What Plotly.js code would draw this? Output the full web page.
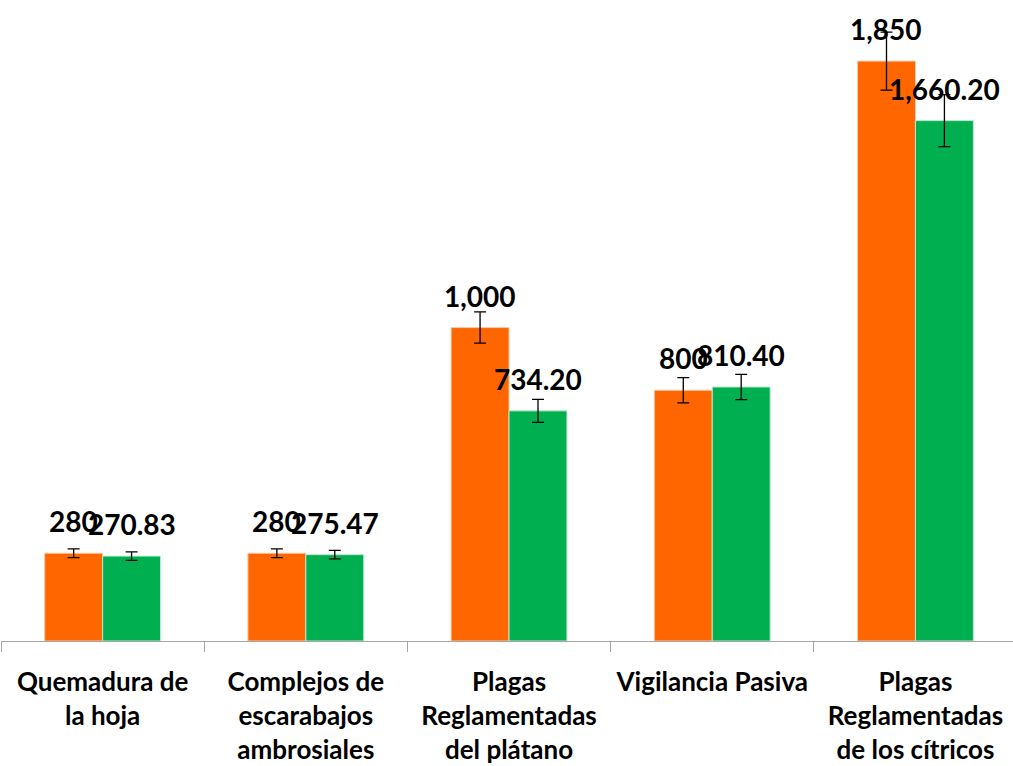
<!DOCTYPE html>
<html>
<head>
<meta charset="utf-8">
<script src="https://cdn.plot.ly/plotly-3.0.1.min.js"></script>
<style>
  html, body { margin: 0; padding: 0; background: #fff; }
  #chart { width: 1013px; height: 766px; }
</style>
</head>
<body>
<div id="chart"></div>
<script>
// Categories as shown on the x axis (line breaks as in the picture)
var categories = [
  "Quemadura de<br>la hoja",
  "Complejos de<br>escarabajos<br>ambrosiales",
  "Plagas<br>Reglamentadas<br>del plátano",
  "Vigilancia Pasiva",
  "Plagas<br>Reglamentadas<br>de los cítricos"
];

// Orange series (whole numbers) and green series (two decimals)
var orangeValues = [280, 280, 1000, 800, 1850];
var greenValues = [270.83, 275.47, 734.2, 810.4, 1660.2];

var orange = "#FF6600";
var green = "#00B050";

var errStyle = { type: "percent", value: 5, visible: true, color: "#000", thickness: 1.3, width: 6 };

var traceOrange = {
  x: categories,
  y: orangeValues,
  type: "bar",
  marker: { color: orange, line: { color: "#f7c9a8", width: 1 } },
  error_y: errStyle,
  hoverinfo: "none"
};
var traceGreen = {
  x: categories,
  y: greenValues,
  type: "bar",
  marker: { color: green, line: { color: "#bfe8cf", width: 1 } },
  error_y: errStyle,
  hoverinfo: "none"
};

function fmt(v, d) {
  return v.toLocaleString("en-US", { minimumFractionDigits: d, maximumFractionDigits: d });
}

// Value labels above each bar
var labelFont = { family: "Lato, 'Open Sans', sans-serif", size: 28, color: "#000", weight: "bold" };
var annotations = [];
categories.forEach(function (c, i) {
  annotations.push({
    x: c, y: orangeValues[i], xref: "x", yref: "y",
    text: "<b>" + fmt(orangeValues[i], 0) + "</b>",
    showarrow: false, xshift: -29, yshift: 13, yanchor: "bottom", font: labelFont
  });
});
categories.forEach(function (c, i) {
  annotations.push({
    x: c, y: greenValues[i], xref: "x", yref: "y",
    text: "<b>" + fmt(greenValues[i], 2) + "</b>",
    showarrow: false, xshift: 29, yshift: 13, yanchor: "bottom", font: labelFont
  });
});

var layout = {
  width: 1013,
  height: 766,
  margin: { l: 1, r: 0, t: 0, b: 125 },
  paper_bgcolor: "#fff",
  plot_bgcolor: "#fff",
  showlegend: false,
  barmode: "group",
  bargap: 0.43,
  bargroupgap: 0,
  xaxis: {
    type: "category",
    range: [-0.5, 4.48],
    showline: true,
    linecolor: "#a6a6a6",
    linewidth: 1,
    ticks: "outside",
    tickson: "boundaries",
    ticklen: 10,
    tickcolor: "#a6a6a6",
    tickangle: 0,
    ticklabelstandoff: 18,
    showgrid: false,
    tickfont: { family: "Lato, 'Open Sans', sans-serif", size: 26, color: "#000", weight: "bold" }
  },
  yaxis: {
    range: [0, 2045],
    visible: false,
    showgrid: false,
    zeroline: false
  },
  annotations: annotations
};

Plotly.newPlot("chart", [traceOrange, traceGreen], layout, { displayModeBar: false, staticPlot: true });
</script>
</body>
</html>
